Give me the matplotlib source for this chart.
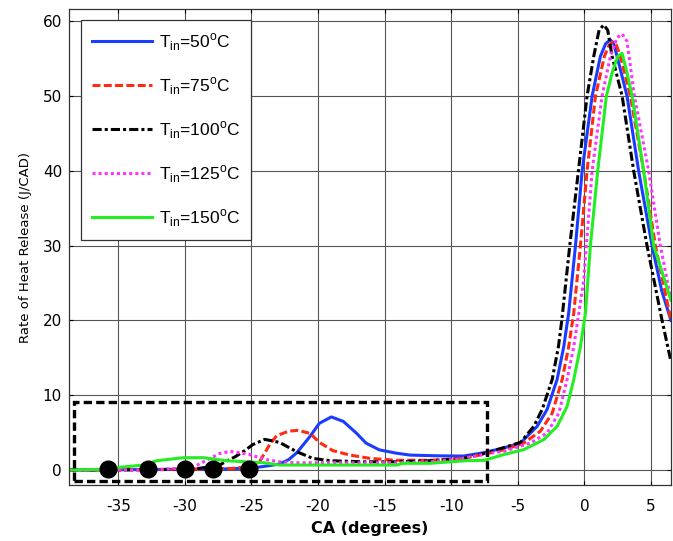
import matplotlib
matplotlib.use("Agg")
import matplotlib.pyplot as plt
from matplotlib.patches import Rectangle

plt.rcParams['font.family'] = ['DejaVu Sans']
plt.rcParams['axes.unicode_minus'] = False
plt.rcParams['mathtext.fontset'] = 'custom'
plt.rcParams['mathtext.rm'] = 'Liberation Sans'

# ---- data ----
ca_50 = [-38.7, -30, -27, -25.5, -24.6, -23.8, -22.9, -22.2, -21.6, -20.6, -19.9, -19.0, -18.1,
         -17.1, -16.4, -15.4, -14.1, -13.1, -11, -9.1, -7.6, -6.05, -4.8, -3.55, -2.8, -2.05,
         -1.55, -1.18, -0.67, -0.17, 0.58, 1.2, 1.6, 1.95, 2.2, 2.45, 3.2, 4.07, 5.08, 5.8, 6.5]
hr_50 = [0.0, 0.1, 0.15, 0.25, 0.36, 0.55, 0.8, 1.4, 2.3, 4.5, 6.25, 7.1, 6.5,
         4.9, 3.6, 2.7, 2.25, 2.0, 1.9, 1.87, 2.3, 2.96, 3.6, 5.84, 8.1, 12.1,
         16.5, 21, 30, 40, 50, 55.3, 57.0, 57.5, 57.0, 55.3, 50, 40, 30, 24, 20]

ca_75 = [-38.7, -30, -26.5, -25.5, -24.8, -24.4, -24.1, -23.6, -23.1, -22.2, -21.5, -20.6, -19.9,
         -18.9, -17.6, -16.1, -14.1, -11.6, -9.1, -7.3, -6.05, -4.55, -3.3, -2.42, -1.67, -1.18,
         -0.8, -0.3, 0.2, 0.83, 1.5, 1.85, 2.13, 2.4, 2.7, 3.45, 4.45, 5.33, 6.5]
hr_75 = [0.0, 0.1, 0.2, 0.4, 0.7, 1.1, 2.0, 3.5, 4.6, 5.2, 5.3, 4.9, 3.7,
         2.6, 2.0, 1.56, 1.3, 1.3, 1.56, 2.2, 2.7, 3.6, 5.2, 7.6, 12.1, 16.5,
         21, 30, 40, 50, 55.3, 56.8, 57.2, 56.8, 55.3, 50, 40, 30, 20]

ca_100 = [-38.7, -32, -29, -27.4, -26.2, -25.5, -24.9, -24.0, -22.9, -21.6, -20.4, -19.1, -16.6,
          -14.1, -11.6, -9.1, -7.3, -6.05, -4.8, -3.8, -3.17, -2.42, -1.95, -1.7, -1.1, -0.45,
          0.2, 0.7, 1.1, 1.45, 1.75, 2.08, 2.83, 3.7, 4.7, 5.83, 6.5]
hr_100 = [0.0, 0.05, 0.2, 0.67, 1.8, 2.6, 3.4, 4.1, 3.7, 2.45, 1.56, 1.25, 1.1,
          1.1, 1.25, 1.56, 2.3, 3.0, 3.7, 5.84, 8.1, 12.1, 16.5, 20, 30, 40,
          50, 55.3, 58.8, 59.5, 58.8, 55.3, 50, 40, 30, 20, 14.5]

ca_125 = [-38.7, -32, -30.5, -29.3, -28.6, -27.4, -26.6, -25.2, -23.9, -22.9, -21.6, -19.1, -14.1,
          -11.6, -9.1, -7.3, -6.05, -4.05, -2.8, -1.92, -1.3, -0.8, -0.42, -0.05, 0.15, 0.58,
          1.33, 1.95, 2.45, 2.83, 3.2, 3.75, 4.82, 5.7, 6.5]
hr_125 = [0.0, 0.05, 0.2, 0.45, 1.1, 2.2, 2.5, 2.1, 1.4, 1.1, 0.98, 0.98, 0.98,
          1.1, 1.56, 2.2, 2.5, 3.6, 4.96, 7.6, 12.1, 16.5, 21, 25.4, 30, 40,
          50, 55.3, 57.8, 58.3, 57.3, 50, 40, 30, 22.7]

ca_150 = [-38.7, -36, -34.9, -33.1, -32.1, -30.1, -28.6, -26.9, -25.4, -24.1, -22.9, -14.1, -13.6,
          -11.6, -8.9, -7.5, -6.05, -4.55, -3.05, -2.05, -1.3, -0.8, -0.3, 0.08, 0.45, 1.0,
          1.65, 2.08, 2.5, 2.83, 3.2, 3.58, 4.45, 5.2, 6.5]
hr_150 = [0.0, 0.1, 0.36, 0.67, 1.25, 1.65, 1.65, 1.25, 1.1, 0.98, 0.67, 0.67, 0.9,
          0.9, 1.25, 1.3, 2.07, 2.73, 4.07, 5.84, 8.5, 12.1, 16.5, 21, 30, 40,
          50, 53.1, 55.3, 55.7, 53.1, 50, 40, 30, 22.7]

soc_ca = [-35.75, -32.8, -30.0, -27.9, -25.2]
soc_hr = [0.2, 0.2, 0.2, 0.2, 0.2]

labels = [r'T$_{\rm in}$=50$^{\rm o}$C', r'T$_{\rm in}$=75$^{\rm o}$C', r'T$_{\rm in}$=100$^{\rm o}$C',
          r'T$_{\rm in}$=125$^{\rm o}$C', r'T$_{\rm in}$=150$^{\rm o}$C']
x_ticks = [-35, -30, -25, -20, -15, -10, -5, 0, 5]
y_ticks = [0, 10, 20, 30, 40, 50, 60]

# ---- figure ----
fig = plt.figure(figsize=(6.73, 5.41), dpi=100)
ax = fig.add_axes([0.1025, 0.1035, 0.8945, 0.8795])

lw = 2.2
ax.plot(ca_50, hr_50, color='#1a3cff', lw=lw, ls='-', label=labels[0])
ax.plot(ca_75, hr_75, color='#ff2a10', lw=lw, ls=(0, (2.6, 1.1)), label=labels[1])
ax.plot(ca_100, hr_100, color='black', lw=lw, ls=(0, (3, 1, 1, 1)), label=labels[2])
ax.plot(ca_125, hr_125, color='#ff33ff', lw=lw, ls=(0, (1, 1)), label=labels[3])
ax.plot(ca_150, hr_150, color='#22ee22', lw=lw, ls='-', label=labels[4])

ax.plot(soc_ca, soc_hr, 'o', color='black', ms=12, zorder=5)

rect = Rectangle((-38.3, -1.47), 31.0, 10.6, fill=False, edgecolor='black', lw=2.4,
                 ls=(0, (2.5, 1.25)), zorder=4)
ax.add_patch(rect)

ax.set_xlim(-38.7, 6.5)
ax.set_ylim(-2.0, 61.6)
ax.set_xticks(x_ticks)
ax.set_yticks(y_ticks)
ax.grid(True, color='#555555', lw=0.8)
ax.set_axisbelow(True)
ax.tick_params(direction='in', length=3, top=True, right=True, labelsize=11)
ax.tick_params(axis='x', pad=10)
ax.tick_params(axis='y', pad=5)
for s in ax.spines.values():
    s.set_linewidth(0.9)
    s.set_color('#333333')

ax.set_xlabel('CA (degrees)', fontsize=11.5, fontweight='bold', labelpad=5)
ax.set_ylabel('Rate of Heat Release (J/CAD)', fontsize=9.5, labelpad=8)

leg = ax.legend(loc='upper left', bbox_to_anchor=(0.0194, 0.977), borderaxespad=0,
                prop={'family': 'Liberation Sans', 'size': 12.5},
                handlelength=3.45, handletextpad=0.4, labelspacing=1.28,
                borderpad=0.65, fancybox=False, framealpha=1, edgecolor='#333333')
leg.get_frame().set_linewidth(0.9)

fig.savefig('out.png', dpi=100)
